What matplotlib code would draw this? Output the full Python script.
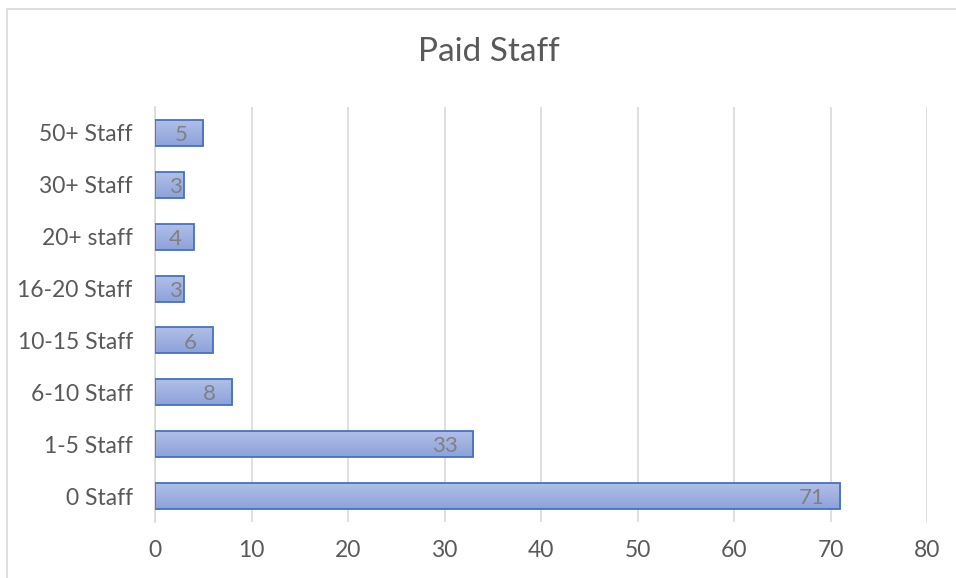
import numpy as np
import matplotlib.pyplot as plt
from matplotlib.colors import LinearSegmentedColormap
from matplotlib.patches import Rectangle

plt.rcParams['font.family'] = ['Lato', 'DejaVu Sans']

categories = ['0 Staff', '1-5 Staff', '6-10 Staff', '10-15 Staff',
              '16-20 Staff', '20+ staff', '30+ Staff', '50+ Staff']
values = [71, 33, 8, 6, 3, 4, 3, 5]
xticks = [0, 10, 20, 30, 40, 50, 60, 70, 80]

grey = '#808080'
edge = '#4472c4'
bar_h = 0.5

fig = plt.figure(figsize=(9.56, 5.78), dpi=100)
# outer chart border (only top/left visible in the crop)
fig.add_artist(Rectangle((7 / 956, -0.1), 1.1, 1 - 9 / 578 + 0.1,
                         transform=fig.transFigure, fill=False,
                         edgecolor='#d9d9d9', linewidth=1.2))

ax = fig.add_axes([155 / 956, 1 - 522 / 578, 772 / 956, 415 / 578])

grad = LinearSegmentedColormap.from_list('g', ['#8da2db', '#b1bfe7'])
ys = np.arange(len(categories))
for y, v in zip(ys, values):
    g = np.linspace(0, 1, 64).reshape(-1, 1)
    ax.imshow(g, cmap=grad, aspect='auto', origin='lower',
              extent=(0, v, y - bar_h / 2, y + bar_h / 2), zorder=2)
ax.barh(ys, values, height=bar_h, fill=False, edgecolor=edge,
        linewidth=1.3, zorder=3)

# inside-end labels, kept from sliding off short bars
for y, v in zip(ys, values):
    ax.text(max(v - 1.65, 2.75), y - 0.04, str(v), ha='right', va='center',
            color=grey, fontsize=16, zorder=4)

ax.set_xlim(0, 80)
ax.set_ylim(-0.5, len(categories) - 0.5)
ax.set_xticks(xticks)
ax.set_yticks(ys)
ax.set_yticklabels(categories)
ax.tick_params(axis='both', length=0, labelsize=16.5, labelcolor='#595959')
ax.tick_params(axis='x', pad=13)
ax.tick_params(axis='y', pad=16)
ax.grid(axis='x', color='#d9d9d9', linewidth=1.2, zorder=0)
ax.set_axisbelow(True)
for s in ['top', 'right', 'bottom']:
    ax.spines[s].set_visible(False)
ax.spines['left'].set_color('#d9d9d9')
ax.spines['left'].set_linewidth(1.2)

fig.text(489 / 956, 1 - 52 / 578, 'Paid Staff', ha='center', va='center',
         fontsize=24, color='#595959')

fig.savefig('out.png', dpi=100)
